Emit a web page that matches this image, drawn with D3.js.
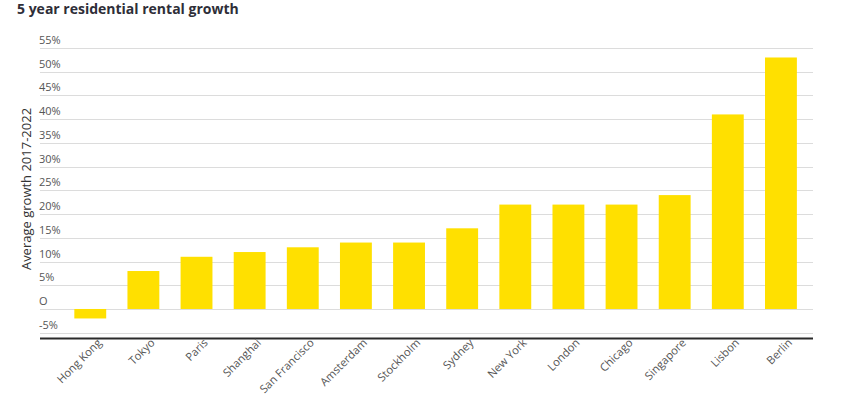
<!DOCTYPE html>
<html lang="en">
<head>
<meta charset="UTF-8">
<title>5 year residential rental growth</title>
<script src="https://cdn.jsdelivr.net/npm/d3@7"></script>
<style>
    body { margin: 0; background: #fff; font-family: "Open Sans", sans-serif; }
    .title { font-weight: 700; font-size: 14px; fill: #2e2e38; }
    .tick-label { font-size: 11px; fill: #555; }
    .cat-label { font-size: 11.2px; fill: #555; }
    .y-title { font-size: 13px; fill: #333; }
</style>
</head>
<body>
<div id="chart"></div>
<script>
    var cities = ["Hong Kong", "Tokyo", "Paris", "Shanghai", "San Francisco", "Amsterdam", "Stockholm",
        "Sydney", "New York", "London", "Chicago", "Singapore", "Lisbon", "Berlin"];
    var growth = [-2, 8, 11, 12, 13, 14, 14, 17, 22, 22, 22, 24, 41, 53];
    var yTicks = [-5, 0, 5, 10, 15, 20, 25, 30, 35, 40, 45, 50, 55];
    var yTickLabels = ["-5%", "O", "5%", "10%", "15%", "20%", "25%", "30%", "35%", "40%", "45%", "50%", "55%"];

    var W = 842, H = 396;
    var gridLeft = 40, gridRight = 813;

    var svg = d3.select("#chart").append("svg")
        .attr("width", W)
        .attr("height", H);

    svg.append("text")
        .attr("class", "title")
        .attr("x", 17)
        .attr("y", 13.5)
        .text("5 year residential rental growth");

    var y = d3.scaleLinear()
        .domain([-5, 55])
        .range([332.7, 48]);

    var x = d3.scaleBand()
        .domain(cities)
        .range([63.7, 807.5])
        .paddingInner(0.4)
        .paddingOuter(0.2);

    // gridlines + labels
    var grid = svg.append("g");
    grid.selectAll("line")
        .data(yTicks)
        .enter().append("line")
        .attr("x1", gridLeft)
        .attr("x2", gridRight)
        .attr("y1", function (d) { return Math.round(y(d)) + 0.5; })
        .attr("y2", function (d) { return Math.round(y(d)) + 0.5; })
        .attr("stroke", "#dcdcdc")
        .attr("stroke-width", 1);

    grid.selectAll("text")
        .data(yTicks)
        .enter().append("text")
        .attr("class", "tick-label")
        .attr("x", gridLeft - 1)
        .attr("y", function (d) { return y(d) - 4; })
        .text(function (d, i) { return yTickLabels[i]; });

    // bars
    svg.append("g")
        .selectAll("rect")
        .data(growth)
        .enter().append("rect")
        .attr("x", function (d, i) { return x(cities[i]); })
        .attr("width", x.bandwidth())
        .attr("y", function (d) { return y(Math.max(0, d)); })
        .attr("height", function (d) { return Math.abs(y(d) - y(0)); })
        .attr("fill", "#ffe000");

    // bottom axis line
    var axisY = y(-5) + 5.8;
    svg.append("line")
        .attr("x1", gridLeft)
        .attr("x2", gridRight)
        .attr("y1", axisY)
        .attr("y2", axisY)
        .attr("stroke", "#2b2b2b")
        .attr("stroke-width", 2);

    // category labels
    svg.append("g")
        .selectAll("text")
        .data(cities)
        .enter().append("text")
        .attr("class", "cat-label")
        .attr("text-anchor", "end")
        .attr("transform", function (d) {
            var cx = x(d) + x.bandwidth() / 2 + 12;
            return "translate(" + cx + "," + (axisY + 5) + ") rotate(-45)";
        })
        .text(function (d) { return d; });

    // y axis title
    svg.append("text")
        .attr("class", "y-title")
        .attr("text-anchor", "middle")
        .attr("transform", "translate(31,189) rotate(-90)")
        .text("Average growth 2017-2022");
</script>
</body>
</html>
